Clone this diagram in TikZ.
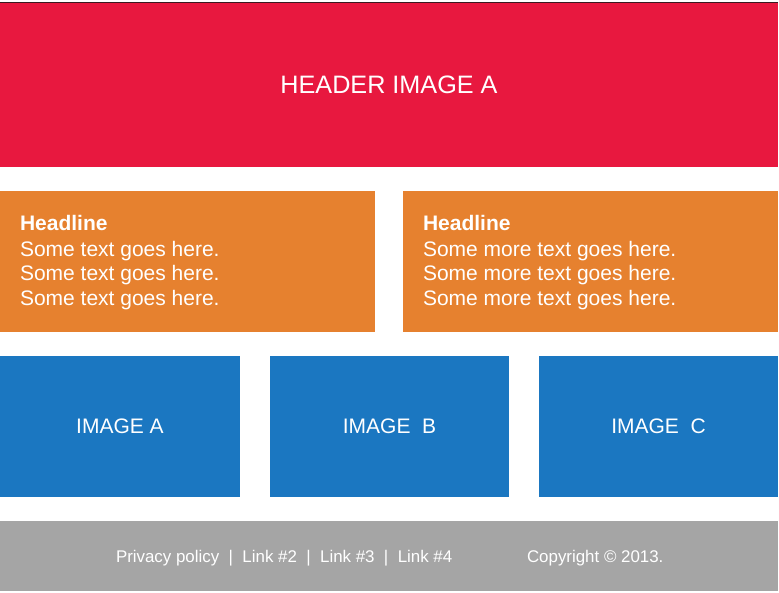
\documentclass[tikz,border=0pt]{standalone}
\usepackage{fontspec}
\setmainfont{Liberation Sans}
\definecolor{hdrred}{HTML}{E8183F}
\definecolor{colorange}{HTML}{E6812F}
\definecolor{imgblue}{HTML}{1B77C1}
\definecolor{footgray}{HTML}{A5A5A5}
\definecolor{topline}{HTML}{3A1A20}
\begin{document}
\begin{tikzpicture}[x=1pt,y=-1pt,
  panel/.style={anchor=north west,inner sep=0pt,outer sep=0pt,draw=none},
  wtext/.style={text=white,inner sep=0pt,outer sep=0pt},
  bodyline/.style={wtext,anchor=base west,font=\fontsize{21}{24}\selectfont},
  headline/.style={bodyline,font=\fontsize{21}{24}\selectfont\bfseries},
  imglabel/.style={wtext,anchor=base,font=\fontsize{21}{24}\selectfont},
  foottext/.style={wtext,anchor=base west,font=\fontsize{16.9}{20}\selectfont}]
\useasboundingbox[fill=white] (0,0) rectangle (779,592);

% header band
\node[panel,fill=hdrred,minimum width=778pt,minimum height=164pt] (header) at (0,3) {};
\coordinate (tl) at (0,2.2);
\coordinate (tr) at (778,2.2);
\draw[topline,line width=1.2pt] (tl) -- (tr);
\node[wtext,anchor=base,font=\fontsize{25.2}{28}\selectfont] (headertxt) at (389,93) {HEADER IMAGE A};

% two text columns
\node[panel,fill=colorange,minimum width=375pt,minimum height=141pt] (colL) at (0,191) {};
\node[panel,fill=colorange,minimum width=375pt,minimum height=141pt] (colR) at (403,191) {};

\node[headline] (hL) at (20,230) {Headline};
\node[bodyline] (l1) at (20,256) {Some text goes here.};
\node[bodyline] (l2) at (20,280.5) {Some text goes here.};
\node[bodyline] (l3) at (20,305) {Some text goes here.};

\node[headline] (hR) at (423,230) {Headline};
\node[bodyline] (r1) at (423,256) {Some more text goes here.};
\node[bodyline] (r2) at (423,280.5) {Some more text goes here.};
\node[bodyline] (r3) at (423,305) {Some more text goes here.};

% image row
\node[panel,fill=imgblue,minimum width=240pt,minimum height=141pt] (imgA) at (0,356) {};
\node[panel,fill=imgblue,minimum width=239pt,minimum height=141pt] (imgB) at (270,356) {};
\node[panel,fill=imgblue,minimum width=239pt,minimum height=141pt] (imgC) at (539,356) {};
\node[imglabel] (tA) at (120,433) {IMAGE A};
\node[imglabel] (tB) at (389.5,433) {IMAGE\ \ B};
\node[imglabel] (tC) at (658.5,433) {IMAGE\ \ C};

% footer
\node[panel,fill=footgray,minimum width=778pt,minimum height=70pt] (footer) at (0,521) {};
\node[foottext] (links) at (116,562) {Privacy policy\ \ |\ \ Link \#2\ \ |\ \ Link \#3\ \ |\ \ Link \#4};
\node[foottext] (copy) at (527,562) {Copyright © 2013.};
\end{tikzpicture}
\end{document}
